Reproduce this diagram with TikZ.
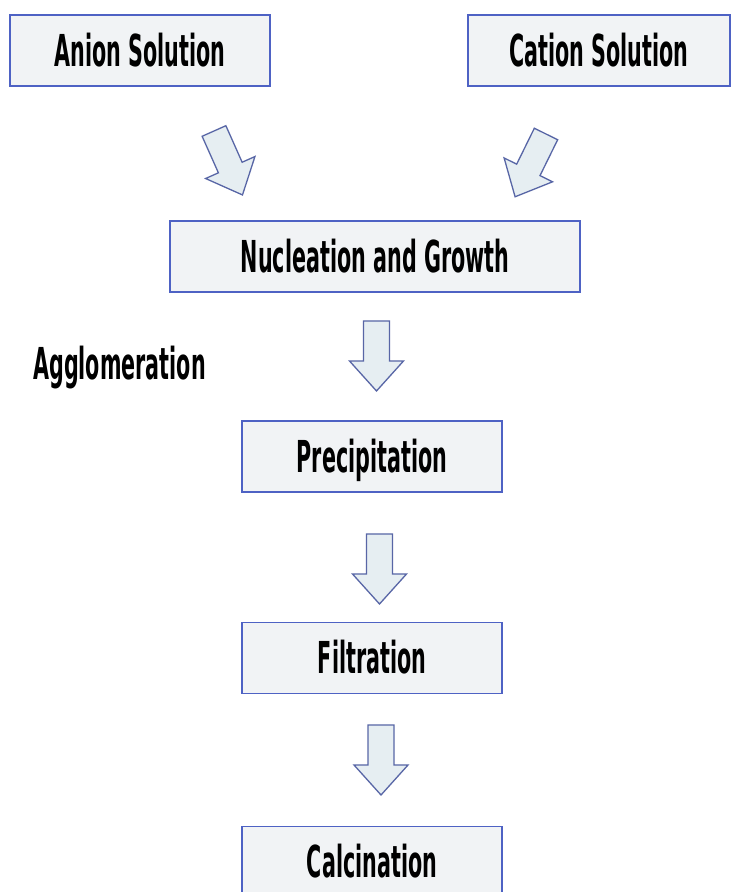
\documentclass[tikz,border=0pt]{standalone}
\usepackage{fontspec}
\newfontfamily\agency[FakeStretch=0.47]{DejaVu Sans Bold}
\definecolor{boxline}{HTML}{4E62C4}
\definecolor{boxfill}{HTML}{F1F3F5}
\definecolor{arrline}{HTML}{5866A6}
\definecolor{arrfill}{HTML}{E6EEF2}
\begin{document}
\begin{tikzpicture}[x=1pt,y=1pt,
  stage/.style={draw=boxline, line width=1.6pt, fill=boxfill, minimum height=71pt,
    inner sep=0pt, text height=32pt, text depth=0pt, font=\agency\fontsize{44}{48}\selectfont},
  lbl/.style={inner sep=0pt, text height=32pt, text depth=0pt, font=\agency\fontsize{44}{48}\selectfont},
  blockarrow/.pic={\draw[draw=arrline, line width=1.3pt, fill=arrfill, line join=miter]
     (0,-13) -- (40,-13) -- (40,-27) -- (70,0) -- (40,27) -- (40,13) -- (0,13) -- cycle;}
]
\clip (0,0) rectangle (731,892);
\fill[white] (0,0) rectangle (731,892);
% y = 892 - pixel row
\node[stage, minimum width=260pt] (anion) at (140,841.5) {Anion Solution};
\node[stage, minimum width=262pt] (cation) at (599,841.5) {Cation Solution};
\node[stage, minimum width=410pt] (nucl) at (375,635.5) {Nucleation and Growth};
\node[lbl, anchor=west] (agg) at (33,528) {Agglomeration};
\node[stage, minimum width=260pt] (prec) at (372,435.5) {Precipitation};
\node[stage, minimum width=260pt] (filt) at (372,234) {Filtration};
\node[stage, minimum width=260pt] (calc) at (372,30) {Calcination};
% block arrows
\pic[rotate=-66] (a1) at (214,761) {blockarrow};
\pic[rotate=-116.2] (a2) at (546,758) {blockarrow};
\pic[rotate=-90] (a3) at (376.5,571) {blockarrow};
\pic[rotate=-90] (a4) at (379.5,358) {blockarrow};
\pic[rotate=-90] (a5) at (381,167) {blockarrow};
\end{tikzpicture}
\end{document}
